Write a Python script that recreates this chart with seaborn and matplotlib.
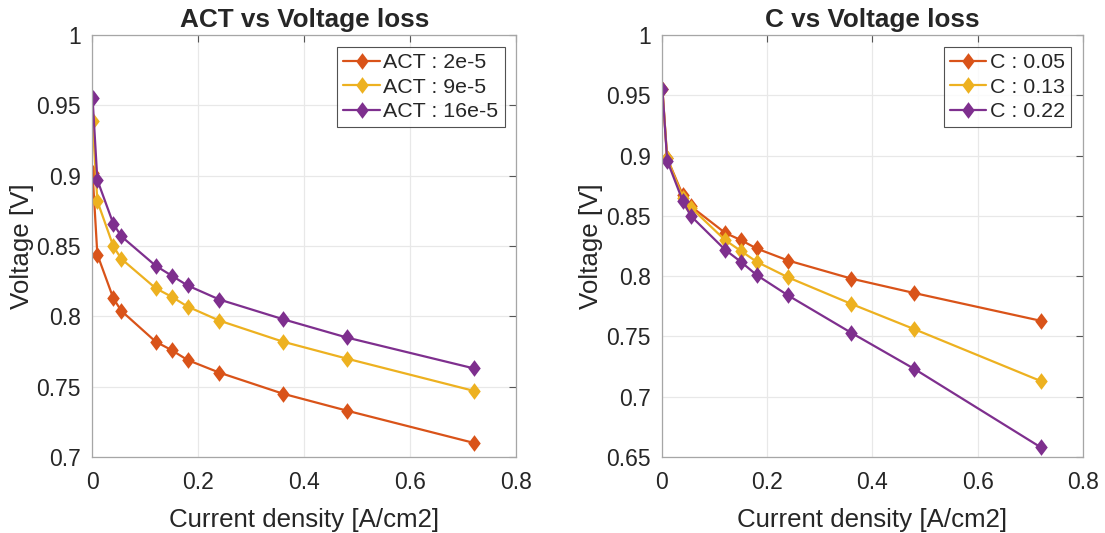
import pandas as pd
import matplotlib.pyplot as plt
import seaborn as sns

# densidade de corrente (A/cm2), comum aos dois gráficos
current = [0.001, 0.01, 0.04, 0.055, 0.12, 0.15, 0.18, 0.24, 0.36, 0.48, 0.72]

act_labels = ['ACT : 2e-5', 'ACT : 9e-5', 'ACT : 16e-5']
act_2e5 = [0.902, 0.844, 0.813, 0.804, 0.782, 0.776, 0.769, 0.760, 0.745, 0.733, 0.710]
act_9e5 = [0.939, 0.882, 0.850, 0.841, 0.820, 0.814, 0.807, 0.797, 0.782, 0.770, 0.747]
act_16e5 = [0.955, 0.897, 0.866, 0.857, 0.836, 0.829, 0.822, 0.812, 0.798, 0.785, 0.763]

c_labels = ['C : 0.05', 'C : 0.13', 'C : 0.22']
c_005 = [0.955, 0.898, 0.867, 0.858, 0.836, 0.830, 0.823, 0.813, 0.798, 0.786, 0.763]
c_013 = [0.955, 0.898, 0.865, 0.857, 0.830, 0.821, 0.812, 0.799, 0.777, 0.756, 0.713]
c_022 = [0.955, 0.896, 0.862, 0.850, 0.822, 0.812, 0.801, 0.784, 0.753, 0.723, 0.658]

colors = ['#D95319', '#EDB120', '#7E2F8E']

# losango no estilo do matlab (mais estreito que 'D', mais largo que 'd')
diamond = [(0, 1), (0.75, 0), (0, -1), (-0.75, 0), (0, 1)]


def long_df(labels, series):
    rows = []
    for lab, vals in zip(labels, series):
        for x, y in zip(current, vals):
            rows.append({'x': x, 'y': y, 'serie': lab})
    return pd.DataFrame(rows)


def style_axes(ax, title, ylim, yticks):
    ax.set_xlim(0, 0.8)
    ax.set_ylim(*ylim)
    ax.set_xticks([0, 0.2, 0.4, 0.6, 0.8])
    ax.set_xticklabels(['0', '0.2', '0.4', '0.6', '0.8'])
    ax.set_yticks(yticks)
    ax.set_yticklabels([f'{t:g}' for t in yticks])
    ax.grid(True, color='#E8E8E8', linewidth=0.9)
    ax.set_axisbelow(True)
    for s in ax.spines.values():
        s.set_color('#A6A6A6')
        s.set_linewidth(0.9)
    ax.tick_params(direction='in', length=5, color='#555555', labelsize=16.5,
                   labelcolor='#262626', top=True, right=True)
    ax.tick_params(axis='x', pad=10)
    ax.tick_params(axis='y', pad=8)
    ax.set_title(title, fontsize=18.8, fontweight='bold', pad=6)
    ax.set_xlabel('Current density [A/cm2]', fontsize=18.6, color='#262626', labelpad=10)
    ax.set_ylabel('Voltage [V]', fontsize=18.6, color='#262626', labelpad=2)
    leg = ax.legend(loc='upper right', fontsize=15.4, frameon=True, fancybox=False,
                    edgecolor='#262626', handlelength=1.7, handletextpad=0.15,
                    borderpad=0.3, labelspacing=0.25, borderaxespad=0.55)
    leg.get_frame().set_linewidth(0.8)


sns.set_style('white')
plt.rcParams['font.family'] = ['Liberation Sans', 'DejaVu Sans']

fig = plt.figure(figsize=(11.05, 5.33), dpi=100)
ax1 = fig.add_axes([0.0833, 0.1426, 0.384, 0.7914])
ax2 = fig.add_axes([0.599, 0.1426, 0.381, 0.7914])

df_act = long_df(act_labels, [act_2e5, act_9e5, act_16e5])
sns.lineplot(data=df_act, x='x', y='y', hue='serie', palette=colors, sort=False,
             marker=diamond, markersize=12, markeredgewidth=0, linewidth=1.6, ax=ax1)
style_axes(ax1, 'ACT vs Voltage loss', (0.7, 1.0), [0.7, 0.75, 0.8, 0.85, 0.9, 0.95, 1.0])

df_c = long_df(c_labels, [c_005, c_013, c_022])
sns.lineplot(data=df_c, x='x', y='y', hue='serie', palette=colors, sort=False,
             marker=diamond, markersize=12, markeredgewidth=0, linewidth=1.6, ax=ax2)
style_axes(ax2, 'C vs Voltage loss', (0.65, 1.0), [0.65, 0.7, 0.75, 0.8, 0.85, 0.9, 0.95, 1.0])

plt.savefig('out.png', dpi=100)
